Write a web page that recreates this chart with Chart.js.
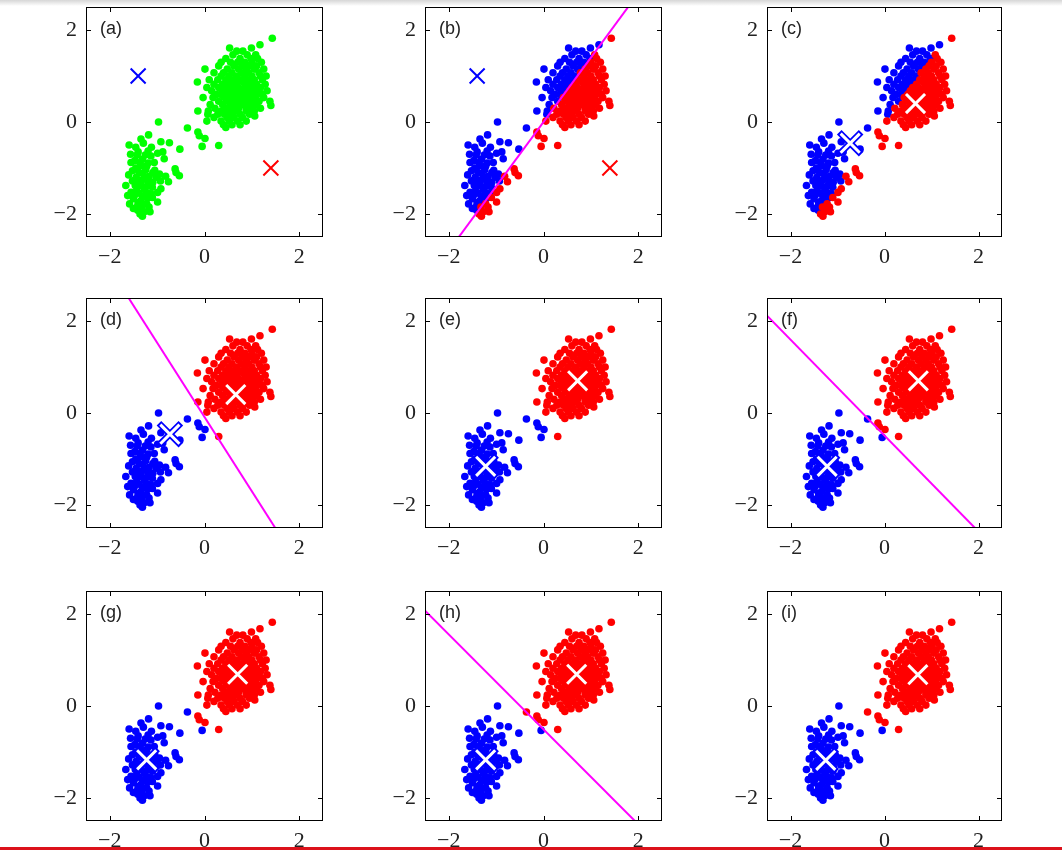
<!DOCTYPE html>
<html>
<head>
<meta charset="utf-8">
<script src="https://cdn.jsdelivr.net/npm/chart.js@4.4.1/dist/chart.umd.min.js"></script>
<style>
  body { margin: 0; width: 1062px; height: 853px; background: #fff; position: relative; overflow: hidden; }
  canvas.panel { position: absolute; }
  #topbar { position: absolute; left: 0; top: 0; width: 1062px; height: 6px; background: linear-gradient(#d6d6d6, #fff); }
  #redline { position: absolute; left: 0; top: 847px; width: 1062px; height: 3px; background: #dc121b; }
</style>
</head>
<body>
<div id="topbar"></div>
<script>
// data (standardised units)
const lowerCluster = [
  [-0.97, 0.00], [-1.18, -0.28], [-1.34, -0.37], [-1.59, -0.50], [-1.45, -0.55], [-1.29, -0.46],
  [-0.92, -0.43], [-0.74, -0.45], [-0.52, -0.59], [-1.40, -0.65], [-1.19, -0.63], [-0.99, -0.68],
  [-0.88, -0.65], [-1.13, -0.74], [-1.55, -0.88], [-1.47, -0.84], [-1.31, -0.81], [-1.19, -0.89],
  [-1.06, -0.88], [-1.34, -0.95], [-1.52, -1.06], [-1.38, -1.10], [-1.24, -1.04], [-1.09, -1.10],
  [-0.60, -1.10], [-0.53, -1.17], [-0.95, -1.13], [-1.66, -1.38], [-1.52, -1.28], [-1.38, -1.30],
  [-1.24, -1.24], [-1.09, -1.31], [-0.93, -1.28], [-0.76, -1.30], [-1.34, -1.38], [-1.55, -1.53],
  [-1.43, -1.49], [-1.27, -1.47], [-1.13, -1.56], [-0.99, -1.53], [-0.92, -1.45], [-1.50, -1.67],
  [-1.34, -1.71], [-1.20, -1.66], [-0.99, -1.74], [-1.41, -1.82], [-1.17, -1.85], [-1.31, -2.05],
  [-1.41, -1.92], [-1.27, -1.95], [-1.42, -0.72], [-1.25, -0.72], [-1.36, -0.88], [-1.22, -0.96],
  [-1.45, -1.00], [-1.30, -1.12], [-1.17, -1.18], [-1.44, -1.20], [-1.30, -1.25], [-1.18, -1.30],
  [-1.46, -1.38], [-1.22, -1.40], [-1.10, -1.42], [-1.38, -1.55], [-1.20, -1.55], [-1.48, -1.60],
  [-1.30, -1.62], [-1.10, -1.64], [-1.40, -1.75], [-1.22, -1.78], [-1.32, -1.85], [-1.50, -1.88],
  [-1.15, -1.95], [-1.36, -2.00], [-1.56, -0.70], [-1.60, -1.15], [-1.62, -1.60], [-1.05, -1.05],
  [-1.02, -1.20], [-0.85, -0.80], [-1.12, -0.55], [-0.62, -1.02], [-1.58, -1.78], [-0.82, -1.18]
];

const bridgePoints = [
  [-0.36, -0.13], [-0.14, -0.22], [-0.11, -0.30], [0.01, -0.36], [-0.05, -0.53], [0.30, -0.51]
];

const upperCluster = [
  [1.43, 1.82], [1.17, 1.68], [0.53, 1.61], [0.99, 1.61], [0.81, 1.54], [0.68, 1.54],
  [0.60, 1.46], [0.90, 1.46], [1.08, 1.46], [0.45, 1.38], [0.75, 1.38], [0.98, 1.38], [1.12, 1.38],
  [0.35, 1.30], [0.55, 1.30], [0.70, 1.30], [0.85, 1.30], [1.00, 1.30], [1.20, 1.30],
  [0.30, 1.22], [0.62, 1.22], [0.80, 1.22], [0.95, 1.22], [1.10, 1.22],
  [0.01, 1.15], [0.48, 1.15], [0.72, 1.15], [0.88, 1.15], [1.05, 1.15], [1.25, 1.15],
  [0.20, 1.07], [0.40, 1.07], [0.58, 1.07], [0.78, 1.07], [0.93, 1.07], [1.15, 1.07],
  [0.35, 1.00], [0.52, 1.00], [0.68, 1.00], [0.85, 1.00], [1.00, 1.00], [1.18, 1.00], [1.30, 1.00],
  [0.10, 0.92], [0.28, 0.92], [0.45, 0.92], [0.62, 0.92], [0.75, 0.92], [0.90, 0.92], [1.05, 0.92], [1.22, 0.92],
  [-0.15, 0.87], [0.55, 0.87], [0.82, 0.87], [0.98, 0.87],
  [0.20, 0.82], [0.38, 0.82], [0.50, 0.82], [0.68, 0.82], [0.88, 0.82], [1.10, 0.82], [1.28, 0.82],
  [0.05, 0.75], [0.30, 0.75], [0.45, 0.75], [0.60, 0.75], [0.72, 0.75], [0.85, 0.75], [0.95, 0.75], [1.05, 0.75], [1.18, 0.75],
  [0.15, 0.68], [0.40, 0.68], [0.55, 0.68], [0.65, 0.68], [0.78, 0.68], [0.92, 0.68], [1.02, 0.68], [1.15, 0.68], [1.32, 0.68],
  [0.25, 0.60], [0.35, 0.60], [0.50, 0.60], [0.62, 0.60], [0.75, 0.60], [0.88, 0.60], [1.00, 0.60], [1.10, 0.60], [1.22, 0.60],
  [-0.03, 0.53], [0.18, 0.53], [0.42, 0.53], [0.58, 0.53], [0.70, 0.53], [0.82, 0.53], [0.95, 0.53], [1.08, 0.53], [1.25, 0.53],
  [0.30, 0.45], [0.48, 0.45], [0.62, 0.45], [0.75, 0.45], [0.90, 0.45], [1.02, 0.45], [1.15, 0.45], [1.38, 0.45],
  [0.12, 0.38], [0.38, 0.38], [0.55, 0.38], [0.68, 0.38], [0.80, 0.38], [0.95, 0.38], [1.10, 0.38], [1.40, 0.36],
  [0.22, 0.30], [0.45, 0.30], [0.60, 0.30], [0.72, 0.30], [0.88, 0.30], [1.00, 0.30], [1.18, 0.30],
  [-0.14, 0.24], [0.08, 0.24], [0.35, 0.24], [0.52, 0.24], [0.65, 0.24], [0.88, 0.24], [1.05, 0.24],
  [0.07, 0.17], [0.28, 0.17], [0.42, 0.17], [0.58, 0.17], [0.75, 0.17], [0.95, 0.17],
  [0.20, 0.10], [0.48, 0.10], [0.62, 0.10], [0.80, 0.10], [1.06, 0.13],
  [0.05, 0.02], [0.35, 0.02], [0.52, 0.02], [0.70, 0.02], [0.88, 0.02],
  [0.40, -0.06], [0.58, -0.06], [0.75, -0.06], [0.45, -0.12]
];

// centre estimates at each k-means step
const blueCentres = [[-1.4, 1.0], [-0.73, -0.46], [-1.22, -1.16], [-1.22, -1.17], [-1.25, -1.18]];
const redCentres = [[1.4, -1.0], [0.66, 0.40], [0.72, 0.70], [0.70, 0.69], [0.71, 0.68]];

const panelLabels = ["(a)", "(b)", "(c)", "(d)", "(e)", "(f)", "(g)", "(h)", "(i)"];
const assignStep = [-1, 0, 0, 1, 1, 2, 2, 3, 3];   // which centres colour the points (-1 = none)
const centreStep = [0, 0, 1, 1, 2, 2, 3, 3, 4];    // which centres are drawn
const showBoundary = [false, true, false, true, false, true, false, true, false];
const tickValues = [-2, 0, 2];
const axisMin = -2.5, axisMax = 2.5;

// page layout
const colLeft = [86, 425, 767];
const colWidth = [237, 237, 235];
const rowTop = [7, 298, 591];
const plotH = 230;
const padL = 60, padT = 10, padR = 12, padB = 40;

const allPoints = lowerCluster.concat(bridgePoints, upperCluster);

function toXY(p) { return { x: p[0], y: p[1] }; }

function isRed(p, step) {
  const b = blueCentres[step], r = redCentres[step];
  const db = (p[0] - b[0]) ** 2 + (p[1] - b[1]) ** 2;
  const dr = (p[0] - r[0]) ** 2 + (p[1] - r[1]) ** 2;
  return dr < db;
}

// perpendicular bisector of the two centres
function boundary(step) {
  const b = blueCentres[step], r = redCentres[step];
  const mx = (b[0] + r[0]) / 2, my = (b[1] + r[1]) / 2;
  const dx = r[0] - b[0], dy = r[1] - b[1];
  const t = 8 / Math.hypot(dx, dy);
  return [{ x: mx + dy * t, y: my - dx * t }, { x: mx - dy * t, y: my + dx * t }];
}

function fmtTick(v) {
  return v < 0 ? "\u2212" + (-v) : String(v);
}

const frameTicks = {
  id: "frameTicks",
  afterDraw(chart) {
    const ctx = chart.ctx;
    const a = chart.chartArea;
    const xs = chart.scales.x, ys = chart.scales.y;
    ctx.save();
    ctx.strokeStyle = "#000";
    ctx.lineWidth = 1;
    ctx.strokeRect(a.left + 0.5, a.top + 0.5, a.right - a.left - 1, a.bottom - a.top - 1);
    ctx.beginPath();
    tickValues.forEach((v) => {
      const px = Math.round(xs.getPixelForValue(v)) + 0.5;
      ctx.moveTo(px, a.bottom); ctx.lineTo(px, a.bottom - 5);
      ctx.moveTo(px, a.top); ctx.lineTo(px, a.top + 5);
      const py = Math.round(ys.getPixelForValue(v)) + 0.5;
      ctx.moveTo(a.left, py); ctx.lineTo(a.left + 5, py);
      ctx.moveTo(a.right, py); ctx.lineTo(a.right - 5, py);
    });
    ctx.stroke();
    ctx.fillStyle = "#222";
    ctx.font = "18px 'Liberation Sans', Arial, sans-serif";
    ctx.textBaseline = "middle";
    ctx.fillText(chart.options.plugins.frameTicks.label, a.left + 14, a.top + 22);
    ctx.restore();
  }
};

function makePanel(i) {
  const canvas = document.createElement("canvas");
  canvas.className = "panel";
  const col = i % 3;
  const w = colWidth[col] + padL + padR, h = plotH + padT + padB;
  canvas.width = w; canvas.height = h;
  canvas.style.width = w + "px"; canvas.style.height = h + "px";
  canvas.style.left = (colLeft[col] - padL) + "px";
  canvas.style.top = (rowTop[Math.floor(i / 3)] - padT) + "px";
  document.body.appendChild(canvas);

  const cs = centreStep[i];
  const plain = cs === 0;
  const datasets = [];

  // centres on top
  [["#0000ff", blueCentres[cs]], ["#ff0000", redCentres[cs]]].forEach(([colr, c]) => {
    if (plain) {
      datasets.push({ data: [toXY(c)], pointStyle: "crossRot", pointRadius: 10.6,
        pointBorderColor: colr, pointBorderWidth: 2, order: 1 });
    } else {
      datasets.push({ data: [toXY(c)], pointStyle: "crossRot", pointRadius: 13.5,
        pointBorderColor: "#ffffff", pointBorderWidth: 3, order: 0 });
      datasets.push({ data: [toXY(c)], pointStyle: "crossRot", pointRadius: 15.5,
        pointBorderColor: colr, pointBorderWidth: 6.5, order: 1 });
    }
  });

  if (showBoundary[i]) {
    datasets.push({ type: "line", data: boundary(assignStep[i]), borderColor: "#ff00ff",
      borderWidth: 2, pointRadius: 0, showLine: true, clip: 0, order: 2 });
  }

  const step = assignStep[i];
  const dot = 3.8;
  if (step < 0) {
    datasets.push({ data: allPoints.map(toXY), pointRadius: dot, pointBorderWidth: 0,
      pointBackgroundColor: "#00ff00", order: 4 });
  } else {
    const reds = allPoints.filter((p) => isRed(p, step)).map(toXY);
    const blues = allPoints.filter((p) => !isRed(p, step)).map(toXY);
    datasets.push({ data: blues, pointRadius: dot, pointBorderWidth: 0,
      pointBackgroundColor: "#0000ff", order: 4 });
    datasets.push({ data: reds, pointRadius: dot, pointBorderWidth: 0,
      pointBackgroundColor: "#ff0000", order: 3 });
  }

  const tickFont = { family: "'Liberation Serif', 'Times New Roman', serif", size: 22 };

  new Chart(canvas, {
    type: "scatter",
    data: { datasets },
    options: {
      responsive: false,
      animation: false,
      events: [],
      layout: { autoPadding: false, padding: { left: 0, top: padT, right: padR, bottom: 0 } },
      plugins: { legend: { display: false }, tooltip: { enabled: false }, frameTicks: { label: panelLabels[i] } },
      scales: {
        x: {
          type: "linear", min: axisMin, max: axisMax,
          afterBuildTicks: (s) => { s.ticks = tickValues.map((v) => ({ value: v })); },
          afterFit: (s) => { s.height = padB; s.paddingLeft = 0; s.paddingRight = 0; },
          grid: { display: false, drawTicks: false },
          border: { display: false },
          ticks: { padding: 7, color: "#222", font: tickFont, maxRotation: 0, callback: fmtTick }
        },
        y: {
          type: "linear", min: axisMin, max: axisMax,
          afterBuildTicks: (s) => { s.ticks = tickValues.map((v) => ({ value: v })); },
          afterFit: (s) => { s.width = padL; s.paddingTop = 0; s.paddingBottom = 0; },
          grid: { display: false, drawTicks: false },
          border: { display: false },
          ticks: { padding: 9, color: "#222", font: tickFont, callback: fmtTick }
        }
      }
    },
    plugins: [frameTicks]
  });
}

for (let i = 0; i < 9; i++) makePanel(i);
document.body.insertAdjacentHTML("beforeend", '<div id="redline"></div>');
</script>
</body>
</html>
